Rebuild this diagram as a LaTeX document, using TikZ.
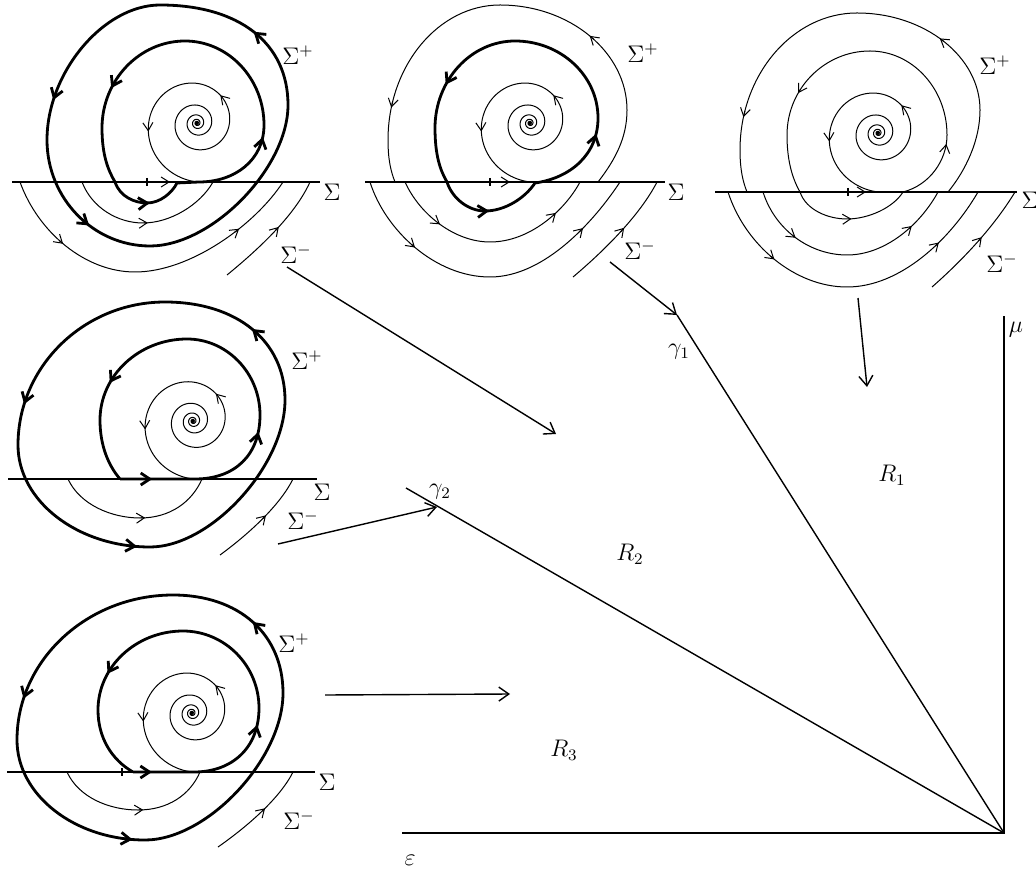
\documentclass[tikz,border=0pt]{standalone}
\usepackage{amsmath,amssymb}
\usepackage{xcolor,tikz}
\usetikzlibrary{arrows.meta}

\newcommand{\fl}[3][ftip]{\draw[#1] (#2) ++(#3) -- (#2);}
\newcommand{\spiralat}[3]{%
  \draw[orbit] plot[domain=-1900:270,samples=440,smooth,variable=\t]
    ({#1+#3*exp(0.00222*(\t-270))*cos(\t)},{#2-#3*exp(0.00222*(\t-270))*sin(\t)});
  \foreach \a in {50,190}{
    \pgfmathsetmacro\rr{#3*exp(0.00222*(\a-270))}
    \draw[ftip] ({#1+\rr*cos(\a)-3*(0.127*cos(\a)-sin(\a))},{#2-\rr*sin(\a)-3*(-0.127*sin(\a)-cos(\a))})
      -- ({#1+\rr*cos(\a)},{#2-\rr*sin(\a)});
  }
}

\begin{document}
\begin{tikzpicture}[x=0.5pt,y=-0.5pt,
  every node/.style={font=\fontsize{12}{14}\selectfont},
  orbit/.style={line width=0.5pt},
  bigorbit/.style={line width=1.4pt},
  switchline/.style={line width=0.6pt},
  tickmark/.style={line width=1.3pt},
  ftip/.style={line width=0.5pt,-{Straight Barb[length=4pt,width=5pt]}},
  fbtip/.style={line width=1.4pt,-{Straight Barb[length=4.5pt,width=6pt]}},
  link/.style={line width=0.7pt,-{Straight Barb[length=5pt,width=7pt]}},
  axisline/.style={line width=1pt},
  rayline/.style={line width=0.7pt}]
\useasboundingbox (0,0) rectangle (1036,876);

\draw[switchline] (12,182) -- (320,182);
\node (s1) at (332,192) {$\Sigma$};
\node (sp1) at (298,55) {$\Sigma^+$};
\node (sm1) at (296,254) {$\Sigma^-$};
\draw[tickmark] (147,178) -- (147,186);
\fl{170,182}{-3,0}
\spiralat{197}{123}{59}
\draw[bigorbit] (288,105) .. controls (288,43) and (239,5) .. (160,5) coordinate[pos=.47] (Ao1) coordinate[pos=.5] (Ao1x)
  .. controls (103.5,5) and (47,72.5) .. (47,140) coordinate[pos=.77] (Ao2) coordinate[pos=.8] (Ao2x)
  .. controls (47,198) and (93,246) .. (150,246) coordinate[pos=.57] (Ao3) coordinate[pos=.6] (Ao3x)
  .. controls (212,246) and (288,168) .. (288,105);
\draw[fbtip] (Ao1) -- (Ao1x);
\draw[fbtip] (Ao2) -- (Ao2x);
\draw[fbtip] (Ao3) -- (Ao3x);
\draw[bigorbit] (115,182) .. controls (120,197) and (135,203) .. (147,203)
  .. controls (160,203) and (172,193) .. (177,183) coordinate[pos=.02] (Ai1) coordinate[pos=.07] (Ai1x)
  -- (199,182)
  .. controls (235,182) and (264,160) .. (264,125) coordinate[pos=.85] (Ai2) coordinate[pos=.88] (Ai2x)
  .. controls (264,78.8) and (228.5,41) .. (185,41)
  .. controls (139.4,41) and (102,80.2) .. (102,128) coordinate[pos=.67] (Ai3) coordinate[pos=.7] (Ai3x)
  .. controls (102,155) and (108,170) .. (115,182);
\draw[fbtip] (Ai1) -- (Ai1x);
\draw[fbtip] (Ai2) -- (Ai2x);
\draw[fbtip] (Ai3) -- (Ai3x);
\draw[orbit] (82,182) .. controls (92,208) and (118,223) .. (143,223)
  .. controls (170,223) and (200,205) .. (213,182) coordinate[pos=.01] (Aa1) coordinate[pos=.06] (Aa1x);
\draw[ftip] (Aa1) -- (Aa1x);
\draw[orbit] (20,182) .. controls (38,232) and (85,272) .. (135,272) coordinate[pos=.45] (Ab1) coordinate[pos=.48] (Ab1x)
  .. controls (190,272) and (255,225) .. (283,182) coordinate[pos=.6] (Ab2) coordinate[pos=.63] (Ab2x);
\draw[ftip] (Ab1) -- (Ab1x);
\draw[ftip] (Ab2) -- (Ab2x);
\draw[orbit] (227,275) .. controls (260,248) and (295,215) .. (310,182) coordinate[pos=.5] (Ac1) coordinate[pos=.54] (Ac1x);
\draw[ftip] (Ac1) -- (Ac1x);

\draw[switchline] (365,182) -- (665,182);
\node (s2) at (676,192) {$\Sigma$};
\node (sp2) at (643,53) {$\Sigma^+$};
\node (sm2) at (640,250) {$\Sigma^-$};
\draw[tickmark] (490,178) -- (490,186);
\fl{510,182}{-3,0}
\spiralat{530}{123}{59}
\draw[bigorbit] (447,182) .. controls (452,198) and (468,211) .. (485,211)
  .. controls (505,211) and (525,198) .. (535,183) coordinate[pos=.02] (Bi1) coordinate[pos=.07] (Bi1x)
  .. controls (570,178) and (598,155) .. (598,118) coordinate[pos=.82] (Bi2) coordinate[pos=.85] (Bi2x)
  .. controls (598,75.6) and (560.7,41) .. (515,41)
  .. controls (471,41) and (435,80.2) .. (435,128) coordinate[pos=.64] (Bi3) coordinate[pos=.67] (Bi3x)
  .. controls (435,155) and (440,170) .. (447,182);
\draw[fbtip] (Bi1) -- (Bi1x);
\draw[fbtip] (Bi2) -- (Bi2x);
\draw[fbtip] (Bi3) -- (Bi3x);
\draw[orbit] (598,182) .. controls (615,160) and (627,138) .. (627,110)
  .. controls (627,52.3) and (569.9,5) .. (500,5) coordinate[pos=.47] (Bo1) coordinate[pos=.5] (Bo1x)
  .. controls (438.4,5) and (388,65.75) .. (388,140) coordinate[pos=.82] (Bo2) coordinate[pos=.85] (Bo2x)
  .. controls (388,160) and (391,172) .. (395,182);
\draw[ftip] (Bo1) -- (Bo1x);
\draw[ftip] (Bo2) -- (Bo2x);
\draw[orbit] (405,182) .. controls (420,215) and (455,242) .. (490,242) coordinate[pos=.47] (Ba1) coordinate[pos=.5] (Ba1x)
  .. controls (530,242) and (565,210) .. (580,182) coordinate[pos=.6] (Ba2) coordinate[pos=.63] (Ba2x);
\draw[ftip] (Ba1) -- (Ba1x);
\draw[ftip] (Ba2) -- (Ba2x);
\draw[orbit] (370,182) .. controls (385,230) and (435,277) .. (490,277) coordinate[pos=.47] (Bb1) coordinate[pos=.5] (Bb1x)
  .. controls (545,277) and (595,220) .. (620,182) coordinate[pos=.6] (Bb2) coordinate[pos=.63] (Bb2x);
\draw[ftip] (Bb1) -- (Bb1x);
\draw[ftip] (Bb2) -- (Bb2x);
\draw[orbit] (573,277) .. controls (605,250) and (640,215) .. (657,182) coordinate[pos=.5] (Bc1) coordinate[pos=.54] (Bc1x);
\draw[ftip] (Bc1) -- (Bc1x);

\draw[switchline] (715,192) -- (1017,192);
\node (s3) at (1030,200) {$\Sigma$};
\node (sp3) at (995,65) {$\Sigma^+$};
\node (sm3) at (1002,263) {$\Sigma^-$};
\draw[tickmark] (848,188) -- (848,196);
\fl{866,192}{-3,0}
\spiralat{878}{133}{59}
\draw[orbit] (800,192) .. controls (806,210) and (828,219) .. (847,219)
  .. controls (868,219) and (893,208) .. (903,192) coordinate[pos=.02] (Ci1) coordinate[pos=.07] (Ci1x)
  .. controls (930,185) and (947,160) .. (947,135) coordinate[pos=.85] (Ci2) coordinate[pos=.88] (Ci2x)
  .. controls (947,88.8) and (912.4,51) .. (870,51)
  .. controls (824.4,51) and (787,88.8) .. (787,135) coordinate[pos=.64] (Ci3) coordinate[pos=.67] (Ci3x)
  .. controls (787,160) and (792,178) .. (800,192);
\draw[ftip] (Ci1) -- (Ci1x);
\draw[ftip] (Ci2) -- (Ci2x);
\draw[ftip] (Ci3) -- (Ci3x);
\draw[orbit] (948,192) .. controls (966,170) and (980,140) .. (980,110)
  .. controls (980,56.65) and (924.65,13) .. (857,13) coordinate[pos=.5] (Co1) coordinate[pos=.53] (Co1x)
  .. controls (792.65,13) and (740,74.65) .. (740,150) coordinate[pos=.82] (Co2) coordinate[pos=.85] (Co2x)
  .. controls (740,170) and (743,182) .. (747,192);
\draw[ftip] (Co1) -- (Co1x);
\draw[ftip] (Co2) -- (Co2x);
\draw[orbit] (763,192) .. controls (775,230) and (810,255) .. (847,255) coordinate[pos=.47] (Cb1) coordinate[pos=.5] (Cb1x)
  .. controls (885,255) and (920,225) .. (938,192) coordinate[pos=.6] (Cb2) coordinate[pos=.63] (Cb2x);
\draw[ftip] (Cb1) -- (Cb1x);
\draw[ftip] (Cb2) -- (Cb2x);
\draw[orbit] (728,192) .. controls (745,245) and (795,287) .. (847,287) coordinate[pos=.47] (Cc1) coordinate[pos=.5] (Cc1x)
  .. controls (900,287) and (950,240) .. (978,192) coordinate[pos=.6] (Cc2) coordinate[pos=.63] (Cc2x);
\draw[ftip] (Cc1) -- (Cc1x);
\draw[ftip] (Cc2) -- (Cc2x);
\draw[orbit] (932,287) .. controls (965,258) and (995,225) .. (1015,192) coordinate[pos=.5] (Cd1) coordinate[pos=.54] (Cd1x);
\draw[ftip] (Cd1) -- (Cd1x);

\draw[switchline] (8,479) -- (317,479);
\node (s4) at (322,492) {$\Sigma$};
\node (sp4) at (307,360) {$\Sigma^+$};
\node (sm4) at (303,520) {$\Sigma^-$};
\spiralat{193}{421}{58}
\draw[bigorbit] (285,400) .. controls (285,341.2) and (237,302) .. (165,302) coordinate[pos=.47] (Do1) coordinate[pos=.5] (Do1x)
  .. controls (84.15,302) and (18,366.35) .. (18,445) coordinate[pos=.79] (Do2) coordinate[pos=.82] (Do2x)
  .. controls (18,501) and (77.4,547) .. (150,547) coordinate[pos=.9] (Do3) coordinate[pos=.94] (Do3x)
  .. controls (210.75,547) and (285,466) .. (285,400);
\draw[fbtip] (Do1) -- (Do1x);
\draw[fbtip] (Do2) -- (Do2x);
\draw[fbtip] (Do3) -- (Do3x);
\draw[bigorbit] (120,479) -- (195,479) coordinate[pos=.38] (Di1) coordinate[pos=.43] (Di1x)
  .. controls (235,479) and (260,455) .. (260,415) coordinate[pos=.82] (Di2) coordinate[pos=.85] (Di2x)
  .. controls (260,373.2) and (227.15,339) .. (187,339)
  .. controls (139.15,339) and (100,375.45) .. (100,420) coordinate[pos=.67] (Di3) coordinate[pos=.7] (Di3x)
  .. controls (100,445) and (108,465) .. (120,479);
\draw[fbtip] (Di1) -- (Di1x);
\draw[fbtip] (Di2) -- (Di2x);
\draw[fbtip] (Di3) -- (Di3x);
\draw[orbit] (68,479) .. controls (80,505) and (112,518) .. (140,518)
  .. controls (170,518) and (192,502) .. (202,479) coordinate[pos=.01] (Da1) coordinate[pos=.06] (Da1x);
\draw[ftip] (Da1) -- (Da1x);
\draw[orbit] (220,555) .. controls (250,533) and (280,505) .. (293,479) coordinate[pos=.5] (Db1) coordinate[pos=.54] (Db1x);
\draw[ftip] (Db1) -- (Db1x);

\draw[switchline] (7,772) -- (315,772);
\node (s5) at (327,782) {$\Sigma$};
\node (sp5) at (294,643) {$\Sigma^+$};
\node (sm5) at (299,820) {$\Sigma^-$};
\draw[tickmark] (122,768) -- (122,776);
\spiralat{192}{713}{59}
\draw[bigorbit] (283,693) .. controls (283,634.2) and (239,595) .. (173,595) coordinate[pos=.47] (Eo1) coordinate[pos=.5] (Eo1x)
  .. controls (87.2,595) and (17,660.25) .. (17,740) coordinate[pos=.79] (Eo2) coordinate[pos=.82] (Eo2x)
  .. controls (17,795) and (74.6,840) .. (145,840) coordinate[pos=.9] (Eo3) coordinate[pos=.94] (Eo3x)
  .. controls (207.1,840) and (283,759.15) .. (283,693);
\draw[fbtip] (Eo1) -- (Eo1x);
\draw[fbtip] (Eo2) -- (Eo2x);
\draw[fbtip] (Eo3) -- (Eo3x);
\draw[bigorbit] (133,772) -- (194,772) coordinate[pos=.25] (Ei1) coordinate[pos=.31] (Ei1x)
  .. controls (232,772) and (259,748) .. (259,708) coordinate[pos=.82] (Ei2) coordinate[pos=.85] (Ei2x)
  .. controls (259,665.65) and (224.8,631) .. (183,631)
  .. controls (136.25,631) and (98,666.55) .. (98,710) coordinate[pos=.67] (Ei3) coordinate[pos=.7] (Ei3x)
  .. controls (98,738) and (112,760) .. (133,772);
\draw[fbtip] (Ei1) -- (Ei1x);
\draw[fbtip] (Ei2) -- (Ei2x);
\draw[fbtip] (Ei3) -- (Ei3x);
\draw[orbit] (67,772) .. controls (79,798) and (110,810) .. (138,810)
  .. controls (168,810) and (190,795) .. (200,772) coordinate[pos=.01] (Ea1) coordinate[pos=.06] (Ea1x);
\draw[ftip] (Ea1) -- (Ea1x);
\draw[orbit] (218,847) .. controls (248,826) and (280,798) .. (293,772) coordinate[pos=.5] (Eb1) coordinate[pos=.54] (Eb1x);
\draw[ftip] (Eb1) -- (Eb1x);

\coordinate (O) at (1004,833);
\coordinate (muend) at (1004,316);
\coordinate (epsend) at (402,833);
\coordinate (g1) at (677,315);
\coordinate (g2) at (406,488);
\draw[axisline] (epsend) -- (O) -- (muend);
\draw[rayline] (O) -- (g1);
\draw[rayline] (O) -- (g2);
\node (mu) at (1016,330) {$\mu$};
\node (eps) at (410,860) {$\varepsilon$};
\node (gam1) at (679,352) {$\gamma_1$};
\node (gam2) at (440,492) {$\gamma_2$};
\node (r1) at (892,475) {$R_1$};
\node (r2) at (630,554) {$R_2$};
\node (r3) at (564,750) {$R_3$};

\coordinate (p1) at (287,267);
\coordinate (q1) at (556,434);
\coordinate (p2) at (610,262);
\coordinate (p3) at (858,298);
\coordinate (q3) at (867,387);
\coordinate (p4) at (278,544);
\coordinate (q4) at (437,507);
\coordinate (p5) at (325,695);
\coordinate (q5) at (510,694);
\draw[link] (p1) -- (q1);
\draw[link] (p2) -- (g1);
\draw[link] (p3) -- (q3);
\draw[link] (p4) -- (q4);
\draw[link] (p5) -- (q5);
\end{tikzpicture}
\end{document}
